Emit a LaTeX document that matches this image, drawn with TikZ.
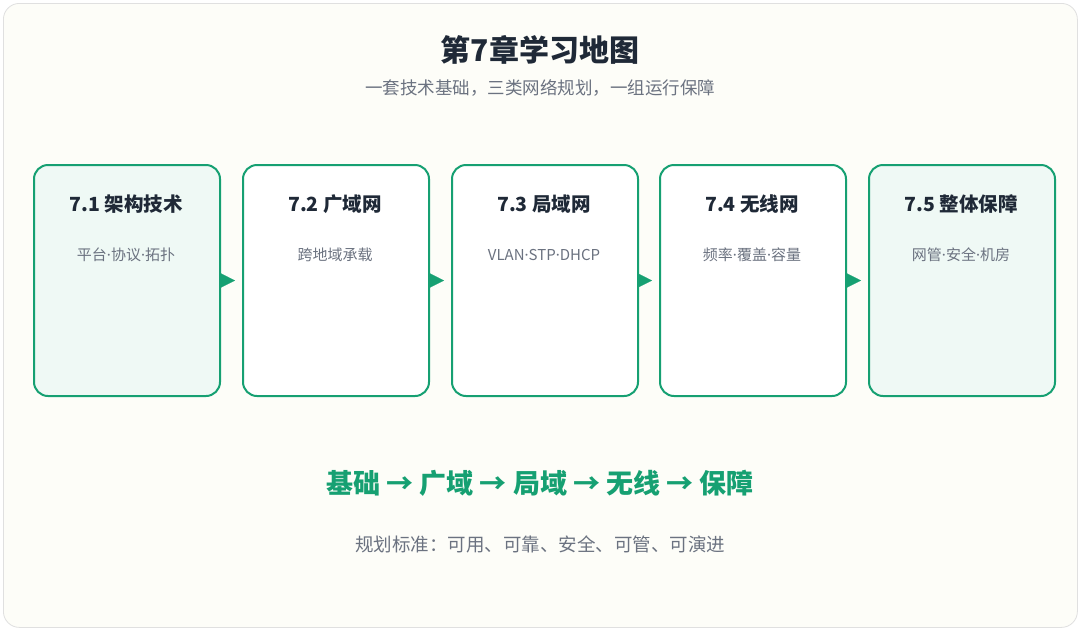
\documentclass[tikz,border=0pt]{standalone}
\usepackage{fontspec}
\setmainfont{Noto Sans CJK SC}
\newfontfamily\lat{Noto Sans}
\newcommand{\md}{{\lat ·}}
\usetikzlibrary{arrows.meta}
\definecolor{grn}{HTML}{16A072}
\definecolor{mint}{HTML}{EFF9F5}
\definecolor{bg}{HTML}{FDFDF8}
\definecolor{dark}{HTML}{1F2937}
\definecolor{gry}{HTML}{6B7280}
\begin{document}
\begin{tikzpicture}[x=1pt,y=-1pt,
  box/.style={draw=grn,line width=2pt,rounded corners=14pt,minimum width=186pt,minimum height=231pt,anchor=north west,inner sep=0pt},
  ttl/.style={font=\bfseries\fontsize{19.5}{22}\selectfont,text=dark},
  sub/.style={font=\fontsize{15}{18}\selectfont,text=gry},
  arr/.style={draw=grn,line width=0.1pt,-{Triangle[length=14pt,width=14pt]},fill=grn}]
\useasboundingbox (0,0) rectangle (1080,630);
\fill[white] (0,0) rectangle (1080,630);
\node[draw=black!12,fill=bg,line width=0.8pt,rounded corners=16pt,minimum width=1074pt,minimum height=624pt,anchor=north west,inner sep=0pt] (frame) at (3,3) {};
\node[font=\bfseries\fontsize{30}{34}\selectfont,text=dark] (title) at (540,50) {第7章学习地图};
\node[font=\fontsize{17.5}{21}\selectfont,text=gry] (subt) at (540,88) {一套技术基础，三类网络规划，一组运行保障};
\foreach \i/\x/\f/\t/\s in {1/33/mint/7.1 架构技术/平台\md 协议\md 拓扑,2/242/white/7.2 广域网/跨地域承载,3/451/white/7.3 局域网/VLAN\md STP\md DHCP,4/659/white/7.4 无线网/频率\md 覆盖\md 容量,5/868/mint/7.5 整体保障/网管\md 安全\md 机房}{
  \node[box,fill=\f] (b\i) at (\x,164) {};
  \node[ttl] (t\i) at (\x+93,204) {\t};
  \node[sub] (s\i) at (\x+93,255) {\s};
}
\foreach \a/\b in {1/2,2/3,3/4,4/5}{
  \draw[arr,shorten >=7pt] (b\a.east) -- (b\b.west);
}
\node[font=\bfseries\fontsize{27}{30}\selectfont,text=grn] (flow) at (540,483) {基础 → 广域 → 局域 → 无线 → 保障};
\node[font=\fontsize{18.5}{22}\selectfont,text=gry] (std) at (540,544) {规划标准：可用、可靠、安全、可管、可演进};
\end{tikzpicture}
\end{document}
